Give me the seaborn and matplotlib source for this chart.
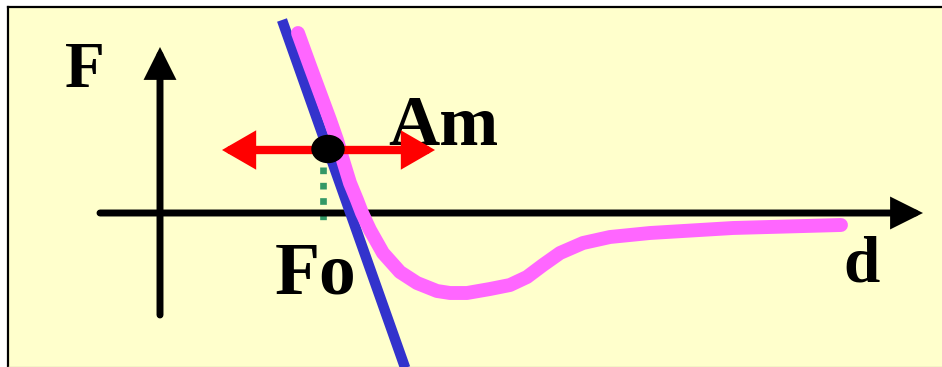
import numpy as np
import matplotlib
matplotlib.use('Agg')
import matplotlib.pyplot as plt
import seaborn as sns
from matplotlib.patches import Ellipse

# force-distance curve (d, F), origin where the axes cross
curve_d = [1.38, 1.50, 1.60, 1.70, 1.77, 1.82, 1.86, 1.90, 1.97, 2.02, 2.10, 2.23, 2.40,
           2.57, 2.77, 2.90, 3.07, 3.30, 3.50, 3.67, 3.83, 4.00, 4.23, 4.50, 4.90, 5.73, 6.81]
curve_F = [1.80, 1.47, 1.20, 0.93, 0.73, 0.56, 0.43, 0.30, 0.13, 0.00, -0.17, -0.40, -0.59,
           -0.70, -0.78, -0.80, -0.80, -0.76, -0.72, -0.64, -0.52, -0.40, -0.30, -0.24,
           -0.20, -0.15, -0.12]

# tangent (blue) line
tangent_d = [1.22, 2.505]
tangent_F = [1.93, -1.70]

# operating point and its projection
point_d, point_F = 1.68, 0.64
fo_d = 1.63
fo_F = [0.46, -0.09]

# red oscillation arrow
osc_d = [0.62, 2.75]
osc_F = 0.63

# axes arrows
d_axis = [-0.60, 7.63]
F_axis = [-1.02, 1.66]

labels = ['F', 'Am', 'Fo', 'd']
label_d = [-0.75, 2.83, 1.56, 7.02]
label_F = [1.26, 0.68, -0.80, -0.69]
label_size = [47, 51, 53, 47]

sns.set_theme(style='white')
plt.rcParams['font.family'] = ['Liberation Serif', 'DejaVu Serif']

fig = plt.figure(figsize=(9.42, 3.67), dpi=100)
fig.patch.set_facecolor('white')
ax = fig.add_axes([8 / 942, 0, 934 / 942, 360 / 367])
ax.set_facecolor('#FFFFCC')
ax.set_xlim(-1.52, 7.82)
ax.set_ylim(-1.54, 2.06)
ax.set_xticks([])
ax.set_yticks([])
ax.spines['right'].set_visible(False)
ax.spines['left'].set_color('black')
ax.spines['left'].set_linewidth(1.6)
ax.spines['top'].set_color('black')
ax.spines['top'].set_linewidth(1.6)
ax.spines['bottom'].set_color('#C8C8A8')
ax.spines['bottom'].set_linewidth(1.0)

arrow_kw = dict(arrowstyle='-|>,head_length=1.3,head_width=0.65', mutation_scale=12,
                lw=5, color='black', shrinkA=0, shrinkB=0, joinstyle='miter')
ax.annotate('', xy=(d_axis[1], 0), xytext=(d_axis[0], 0), arrowprops=arrow_kw)
ax.annotate('', xy=(0, F_axis[1]), xytext=(0, F_axis[0]), arrowprops=arrow_kw)

sns.lineplot(x=tangent_d, y=tangent_F, sort=False, color='#3333CC', linewidth=7.5,
             solid_capstyle='butt', ax=ax, zorder=3)
sns.lineplot(x=curve_d, y=curve_F, sort=False, color='#FF66FF', linewidth=10,
             solid_capstyle='round', solid_joinstyle='round', ax=ax, zorder=4)

ax.plot([fo_d, fo_d], fo_F, color='#339966', linewidth=4.8, linestyle=(0, (1.0, 1.3)),
        dash_capstyle='butt', zorder=2)

ax.add_patch(Ellipse((point_d, point_F), 0.32, 0.27, color='black', zorder=6))

for t, x, y, s in zip(labels, label_d, label_F, label_size):
    ax.text(x, y, t, fontsize=s, fontweight='bold', ha='center', va='baseline',
            color='black', zorder=5)

red_kw = dict(arrowstyle='<|-|>,head_length=1.3,head_width=0.75', mutation_scale=12,
              lw=6, color='#FF0000', shrinkA=0, shrinkB=0, joinstyle='miter')
ax.annotate('', xy=(osc_d[1], osc_F), xytext=(osc_d[0], osc_F), arrowprops=red_kw,
            zorder=5.5)

fig.savefig('out.png', dpi=100)
